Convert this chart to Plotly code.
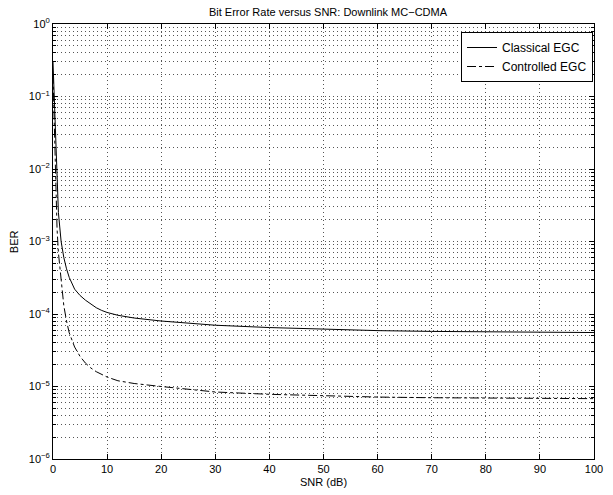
import plotly.graph_objects as go

snr = [0, 0.25, 0.5, 0.75, 1, 1.5, 2, 2.5, 3, 4, 5, 6, 7, 8, 9, 10, 12, 15, 20, 25, 30, 40, 50, 60, 70, 80, 90, 100]
ber_classical = [0.3, 0.08, 0.02, 6e-3, 2.5e-3, 1e-3, 6e-4, 4.2e-4, 3.2e-4, 2.2e-4, 1.8e-4, 1.55e-4, 1.36e-4,
                 1.22e-4, 1.12e-4, 1.05e-4, 9.6e-5, 8.8e-5, 8.0e-5, 7.4e-5, 7.0e-5, 6.5e-5, 6.15e-5, 5.9e-5,
                 5.75e-5, 5.65e-5, 5.6e-5, 5.55e-5]
ber_controlled = [0.2, 0.04, 6e-3, 1.5e-3, 7e-4, 3e-4, 1.3e-4, 8e-5, 5.5e-5, 3.5e-5, 2.6e-5, 2.1e-5, 1.8e-5,
                  1.6e-5, 1.45e-5, 1.35e-5, 1.2e-5, 1.1e-5, 1.0e-5, 9.1e-6, 8.4e-6, 7.8e-6, 7.4e-6, 7.15e-6,
                  7.0e-6, 6.9e-6, 6.85e-6, 6.8e-6]
x_ticks = [0, 10, 20, 30, 40, 50, 60, 70, 80, 90, 100]
y_ticks = [1e-6, 1e-5, 1e-4, 1e-3, 1e-2, 1e-1, 1]
y_ticktext = ["10<sup>\u22126</sup>", "10<sup>\u22125</sup>", "10<sup>\u22124</sup>", "10<sup>\u22123</sup>",
              "10<sup>\u22122</sup>", "10<sup>\u22121</sup>", "10<sup>0</sup>"]

font = "Liberation Sans, Arial, Helvetica, sans-serif"

W, H = 613, 495
L, T, R, B = 53, 24, 10, 36
PW, PH = W - L - R, H - T - B

fig = go.Figure()
fig.add_trace(go.Scatter(x=snr, y=ber_classical, mode="lines", name="Classical EGC",
                         line=dict(color="black", width=1, dash="solid")))
fig.add_trace(go.Scatter(x=snr, y=ber_controlled, mode="lines", name="Controlled EGC",
                         line=dict(color="black", width=1, dash="dashdot")))

grid_col = "#555555"
dots = "1px,3px"
fig.update_layout(
    width=W, height=H,
    margin=dict(l=L, r=R, t=T, b=B),
    paper_bgcolor="white", plot_bgcolor="white",
    font=dict(family=font, size=11, color="black"),
    title=dict(text="Bit Error Rate versus SNR: Downlink MC\u2212CDMA", x=(L + PW / 2) / W, xanchor="center",
               y=1 - 12 / H, yanchor="middle", font=dict(size=11)),
    showlegend=True,
    legend=dict(x=(602 - L) / PW, y=1 - (32 - T) / PH, xanchor="right", yanchor="top",
                bgcolor="white", bordercolor="black", borderwidth=1, font=dict(size=12),
                itemwidth=30, tracegroupgap=0),
    xaxis=dict(range=[0, 100], tickvals=x_ticks, ticks="inside", ticklen=5, tickcolor="black",
               showline=True, linecolor="black", linewidth=1, mirror="allticks",
               showgrid=True, gridcolor=grid_col, griddash=dots, gridwidth=1, zeroline=False,
               tickfont=dict(size=11)),
    yaxis=dict(type="log", range=[-6, 0], tickvals=y_ticks, ticktext=y_ticktext,
               ticks="inside", ticklen=5, tickcolor="black",
               showline=True, linecolor="black", linewidth=1, mirror="allticks",
               showgrid=True, gridcolor=grid_col, griddash=dots, gridwidth=1, zeroline=False,
               minor=dict(dtick="D1", ticks="inside", ticklen=3, tickcolor="black",
                          showgrid=True, gridcolor=grid_col, griddash=dots, gridwidth=1),
               tickfont=dict(size=11)),
    annotations=[
        dict(text="SNR (dB)", xref="paper", yref="paper", x=0.5, y=-(482 - 459) / PH,
             xanchor="center", yanchor="middle", showarrow=False, font=dict(size=11)),
        dict(text="BER", xref="paper", yref="paper", x=-(53 - 13) / PW, y=0.5, textangle=-90,
             xanchor="center", yanchor="middle", showarrow=False, font=dict(size=11)),
    ],
)

# remove the browser's default 8px body margin so the figure sits at the page origin
fig.write_html("out.html", config={"displayModeBar": False},
               post_script="document.body.style.margin='0px';")
